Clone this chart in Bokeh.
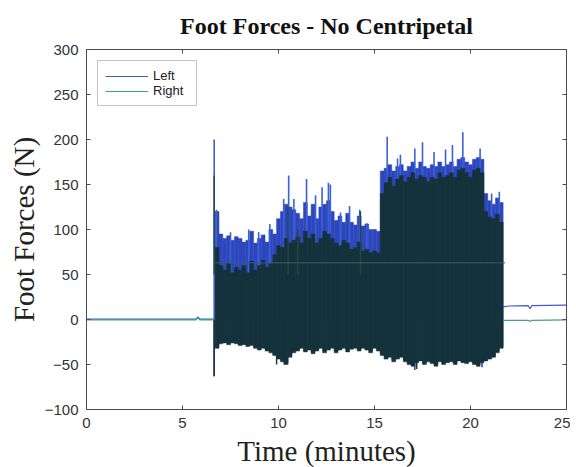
from bokeh.plotting import figure
from bokeh.models import LinearAxis, Range1d, FixedTicker, Legend, LegendItem
from bokeh.embed import file_html
from bokeh.resources import INLINE

# ---- data ----
# dense section: 0.2-minute bins (centre times), max/min of each foot force
bin_t = [6.8, 7.0, 7.2, 7.4, 7.6, 7.8, 8.0, 8.2, 8.4, 8.6, 8.8, 9.0, 9.2, 9.4, 9.6, 9.8,
         10.0, 10.2, 10.4, 10.6, 10.8, 11.0, 11.2, 11.4, 11.6, 11.8, 12.0, 12.2, 12.4, 12.6,
         12.8, 13.0, 13.2, 13.4, 13.6, 13.8, 14.0, 14.2, 14.4, 14.6, 14.8, 15.0, 15.2, 15.4,
         15.6, 15.8, 16.0, 16.2, 16.4, 16.6, 16.8, 17.0, 17.2, 17.4, 17.6, 17.8, 18.0, 18.2,
         18.4, 18.6, 18.8, 19.0, 19.2, 19.4, 19.6, 19.8, 20.0, 20.2, 20.4, 20.6, 20.8, 21.0,
         21.2, 21.4, 21.6]
left_max = [120, 95, 90, 93, 88, 92, 90, 86, 88, 98, 85, 90, 94, 86, 100, 95,
            112, 120, 128, 125, 122, 118, 112, 130, 115, 128, 112, 125, 128, 132,
            120, 110, 115, 108, 118, 108, 105, 115, 104, 106, 100, 100, 98, 165,
            168, 172, 165, 170, 172, 165, 170, 175, 168, 175, 170, 168, 172, 170,
            175, 170, 172, 175, 170, 178, 180, 175, 172, 178, 180, 178, 140, 132,
            128, 135, 130]
left_min = [-30, -25, -24, -26, -24, -25, -27, -26, -28, -27, -30, -32, -30, -33, -35, -38,
            -42, -45, -48, -40, -35, -33, -30, -34, -32, -36, -33, -30, -35, -32,
            -30, -35, -32, -30, -34, -31, -30, -33, -30, -32, -35, -30, -33, -38,
            -42, -40, -45, -42, -40, -45, -48, -50, -46, -44, -48, -45, -47, -50,
            -45, -48, -46, -45, -48, -44, -46, -47, -45, -48, -50, -46, -44, -42,
            -40, -35, -30]
right_max = [80, 60, 55, 62, 52, 58, 55, 60, 52, 65, 55, 60, 66, 58, 62, 72,
             82, 80, 90, 85, 88, 92, 85, 98, 90, 95, 85, 90, 98, 95,
             90, 85, 82, 88, 85, 78, 80, 86, 76, 78, 74, 76, 74, 140,
             152, 158, 148, 156, 160, 153, 158, 163, 156, 160, 158, 153, 158, 156,
             163, 158, 160, 163, 158, 166, 168, 163, 158, 166, 168, 163, 120, 114,
             112, 117, 108]
right_min = [-32, -27, -26, -28, -26, -27, -29, -28, -30, -29, -32, -34, -32, -35, -37, -40,
             -44, -47, -50, -42, -37, -35, -32, -36, -34, -38, -35, -32, -37, -34,
             -32, -37, -34, -32, -36, -33, -32, -35, -32, -34, -37, -32, -35, -40,
             -44, -42, -47, -44, -42, -47, -50, -52, -48, -46, -50, -47, -49, -52,
             -47, -50, -48, -47, -50, -46, -48, -49, -47, -50, -52, -48, -46, -44,
             -42, -37, -32]

# individual peaks sticking out of the band
left_spike_t = [6.65, 6.77, 7.5, 8.45, 8.97, 9.55, 10.27, 10.53, 10.8, 11.46, 11.93, 12.27,
                12.6, 12.7, 13.23, 13.7, 14.23, 14.6, 15.66, 16.2, 16.35, 17.1, 17.5, 18.1,
                18.7, 19.06, 19.6, 20.5, 21.1, 21.5]
left_spike_v = [200, 122, 97, 100, 97, 106, 134, 160, 134, 156, 138, 147,
                152, 150, 119, 126, 122, 107, 203, 179, 183, 190, 197, 186,
                189, 194, 208, 190, 140, 142]
left_dip_t = [6.65, 10.3, 17.1, 20.6]
left_dip_v = [-63, -50, -56, -53]
right_spike_t = [6.65, 10.5, 11.0, 14.27]
right_spike_v = [160, 125, 100, 120]
right_dip_t = [6.65, 9.9, 17.2]
right_dip_v = [-63, -50, -55]

# quiet sections before and after
pre_t = [0, 5.7, 5.8, 5.9, 6.62]
pre_left = [0.5, 0.5, 3, 0.5, 0.5]
pre_right = [-0.5, -0.5, 2, -0.5, -0.5]
post_t = [21.7, 22.0, 23.0, 23.1, 23.2, 25.0]
post_left = [14, 15, 15.5, 12, 15.5, 16]
post_right = [-1, -1, -1, -2, -1, -0.5]

# level line inside the dense section
level_t = [6.7, 21.8]
level_v = [63, 63]

x_ticks = [0, 5, 10, 15, 20, 25]
y_ticks = [-100, -50, 0, 50, 100, 150, 200, 250, 300]

BLUE = "#2d46bd"
SPIKE_BLUE = "#3a62d6"
BLUE_LINE = "#4058d4"
DARK = "#15323a"
GREEN_LINE = "#44a082"
AXIS = "#4a4a58"

p = figure(frame_width=480, frame_height=360, output_backend="svg", toolbar_location=None,
           x_range=Range1d(0, 25), y_range=Range1d(-100, 300),
           min_border_left=86, min_border_right=4, min_border_top=48, min_border_bottom=56)
p.background_fill_color = "white"
p.border_fill_color = "white"
p.grid.visible = False
p.outline_line_color = AXIS

# left (blue) band
p.vbar(x=bin_t, width=0.2, top=left_max, bottom=left_min, fill_color=BLUE, line_color=BLUE, line_width=0.5)
p.segment(x0=left_spike_t, y0=[0] * len(left_spike_t), x1=left_spike_t, y1=left_spike_v,
          line_color=SPIKE_BLUE, line_width=1.6)
p.segment(x0=left_dip_t, y0=[0] * len(left_dip_t), x1=left_dip_t, y1=left_dip_v,
          line_color=BLUE, line_width=1.6)
# right (dark teal) band on top
p.vbar(x=bin_t, width=0.2, top=right_max, bottom=right_min, fill_color=DARK, line_color=DARK, line_width=0.5)
p.segment(x0=right_spike_t, y0=[50] * len(right_spike_t), x1=right_spike_t, y1=right_spike_v,
          line_color="#25483e", line_width=1.4)
p.segment(x0=right_dip_t, y0=[0] * len(right_dip_t), x1=right_dip_t, y1=right_dip_v,
          line_color=DARK, line_width=1.4)
p.line(level_t, level_v, line_color="#2e6266", line_width=1)

# quiet parts
l1 = p.line(pre_t, pre_left, line_color=BLUE_LINE, line_width=1.2)
r1 = p.line(pre_t, pre_right, line_color=GREEN_LINE, line_width=1.2)
p.line(post_t, post_left, line_color=BLUE_LINE, line_width=1.2)
p.line(post_t, post_right, line_color=GREEN_LINE, line_width=1.2)

# axes styling (MATLAB-like box with inward ticks)
def style_axis(ax, show_labels=True, standoff=7):
    ax.axis_line_color = AXIS
    ax.major_tick_line_color = AXIS
    ax.major_tick_in = 4
    ax.major_tick_out = 0
    ax.minor_tick_line_color = None
    if show_labels:
        ax.major_label_text_font = "Liberation Sans"
        ax.major_label_text_font_size = "15px"
        ax.major_label_text_color = "#333333"
        ax.major_label_standoff = standoff
    else:
        ax.major_label_text_font_size = "0px"
        ax.major_label_standoff = 0

p.xaxis.ticker = FixedTicker(ticks=x_ticks)
p.yaxis.ticker = FixedTicker(ticks=y_ticks)
style_axis(p.xaxis[0], standoff=8)
style_axis(p.yaxis[0], standoff=8)
p.xaxis.axis_label = "Time (minutes)"
p.xaxis.axis_label_text_font = "Liberation Serif"
p.xaxis.axis_label_text_font_size = "29px"
p.xaxis.axis_label_text_font_style = "normal"
p.xaxis.axis_label_text_color = "#222222"
p.xaxis.axis_label_standoff = 4
p.yaxis.axis_label = "Foot Forces (N)"
p.yaxis.axis_label_text_font = "Liberation Serif"
p.yaxis.axis_label_text_font_size = "29px"
p.yaxis.axis_label_text_font_style = "normal"
p.yaxis.axis_label_text_color = "#222222"
p.yaxis.axis_label_standoff = 2

top_ax = LinearAxis(ticker=FixedTicker(ticks=x_ticks))
right_ax = LinearAxis(ticker=FixedTicker(ticks=y_ticks))
style_axis(top_ax, False)
style_axis(right_ax, False)
p.add_layout(top_ax, "above")
p.add_layout(right_ax, "right")

p.title.text = "Foot Forces - No Centripetal"
p.title.align = "center"
p.title.text_font = "Liberation Serif"
p.title.text_font_size = "24px"
p.title.text_font_style = "bold"
p.title.text_color = "#111111"
p.title.standoff = 21

legend = Legend(items=[LegendItem(label="Left", renderers=[l1]),
                       LegendItem(label="Right", renderers=[r1])],
                location="top_left")
legend.label_text_font = "Liberation Sans"
legend.label_text_font_size = "13px"
legend.label_text_color = "#222222"
legend.glyph_width = 43
legend.glyph_height = 12
legend.label_height = 12
legend.label_width = 36
legend.spacing = 0
legend.padding = 7
legend.margin = 11
legend.label_standoff = 5
legend.border_line_color = "#8a8a8a"
legend.border_line_width = 1
legend.background_fill_color = "white"
p.add_layout(legend)

open("out.html", "w").write(file_html(p, INLINE))
